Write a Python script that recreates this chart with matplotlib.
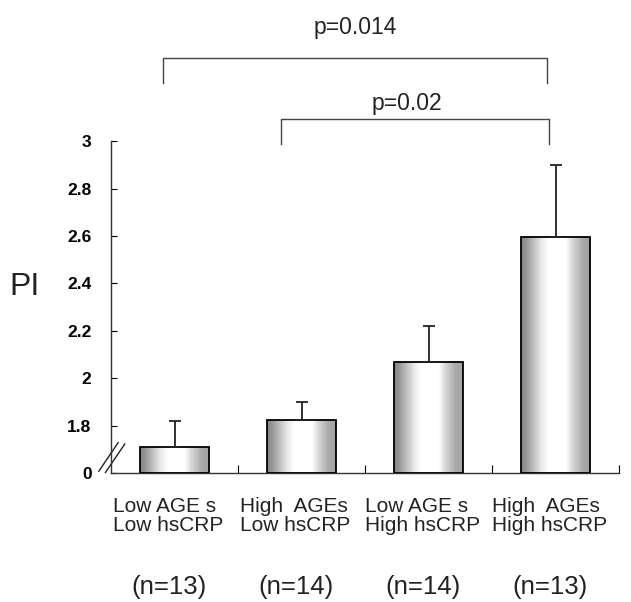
import numpy as np
import matplotlib
matplotlib.use('Agg')
import matplotlib.pyplot as plt
from matplotlib.patches import Rectangle
from matplotlib.transforms import blended_transform_factory

# datos
groups = ['Low AGE s\nLow hsCRP', 'High  AGEs\nLow hsCRP',
          'Low AGE s\nHigh hsCRP', 'High  AGEs\nHigh hsCRP']
n_labels = ['(n=13)', '(n=14)', '(n=14)', '(n=13)']
pi_mean = [1.71, 1.825, 2.07, 2.595]
pi_err = [0.11, 0.075, 0.15, 0.305]
ytick_vals = [1.6, 1.8, 2.0, 2.2, 2.4, 2.6, 2.8, 3.0]
ytick_labels = ['0', '1.8', '2', '2.2', '2.4', '2.6', '2.8', '3']
# comparaciones (x izq, x der, y arriba, y abajo, texto)
comparisons = [(-0.09, 2.93, 3.35, 3.245, 'p=0.014'),
               (0.84, 2.95, 3.095, 2.99, 'p=0.02')]

plt.rcParams['font.family'] = ['Liberation Sans', 'DejaVu Sans']

fig = plt.figure(figsize=(6.31, 6.02), dpi=100)
ax = fig.add_axes([0.176, 0.214, 0.805, 0.5515])

x = np.arange(len(groups))
width = 0.54
y0 = ytick_vals[0]

# degradado horizontal tipo cilindro
xs = np.linspace(0, 1, 200)
shade = np.interp(xs, [0, 0.08, 0.3, 0.4, 0.65, 0.75, 0.9, 1.0],
                  [0.52, 0.60, 0.92, 1.0, 1.0, 0.84, 0.66, 0.64])
grad = np.tile(shade, (2, 1))

for xi, m in zip(x, pi_mean):
    left = xi - width / 2
    rect = Rectangle((left, y0), width, m - y0, facecolor='none',
                     edgecolor='black', linewidth=1.3, zorder=3)
    ax.add_patch(rect)
    im = ax.imshow(grad, cmap='gray', vmin=0, vmax=1, aspect='auto',
                   extent=[left, left + width, y0, m], zorder=2,
                   interpolation='bilinear')
    im.set_clip_path(rect)

ax.errorbar(x, pi_mean, yerr=[np.zeros(len(pi_err)), pi_err], fmt='none',
            ecolor='#222222', elinewidth=1.3, capsize=4, capthick=1.3, zorder=4)

ax.set_xlim(-0.5, 3.5)
ax.set_ylim(1.6, 3.0)

ax.spines['top'].set_visible(False)
ax.spines['right'].set_visible(False)
ax.spines['left'].set_linewidth(1.0)
ax.spines['bottom'].set_linewidth(1.0)
ax.spines['left'].set_color('#333333')
ax.spines['bottom'].set_color('#333333')

ax.set_yticks(ytick_vals)
ax.set_yticklabels(ytick_labels, fontsize=12.5, fontweight='bold')
ax.tick_params(axis='y', direction='in', length=4, width=0.8, pad=14)

ax.set_xticks([0.5, 1.5, 2.5, 3.5])
ax.set_xticklabels([])
ax.tick_params(axis='x', direction='in', length=6, width=0.8)

# etiquetas de grupos
tr = blended_transform_factory(ax.transData, fig.transFigure)
for xi, g, n in zip(x, groups, n_labels):
    ax.text(xi - 0.05, 1 - 516 / 602, g, transform=tr, ha='center', va='center',
            multialignment='left', fontsize=15, color='#222222', linespacing=1.0)
    ax.text(xi - 0.04, 1 - 587 / 602, n, transform=tr, ha='center', va='center',
            fontsize=18.5, color='#222222')

fig.text(24 / 631, 1 - 287 / 602, 'PI', ha='center', va='center', fontsize=23,
         color='#222222')

# corchetes de significancia
for xl, xr, ytop, ybot, txt in comparisons:
    ax.plot([xl, xl, xr, xr], [ybot, ytop, ytop, ybot], color='#444444',
            linewidth=1.0, clip_on=False)
ax.text(1.42, 3.48, comparisons[0][4], ha='center', va='center', fontsize=16.5,
        color='#222222')
ax.text(1.83, 3.16, comparisons[1][4], ha='center', va='center', fontsize=16.5,
        color='#222222')

# marca de eje cortado
for off in [0.0, 0.013]:
    ax.plot([-0.024 + off, 0.014 + off], [0.006 - 0.004 * off / 0.013, 0.092 - 0.004 * off / 0.013],
            transform=ax.transAxes, color='#222222', linewidth=1.0, clip_on=False)

fig.savefig('out.png', dpi=100)
